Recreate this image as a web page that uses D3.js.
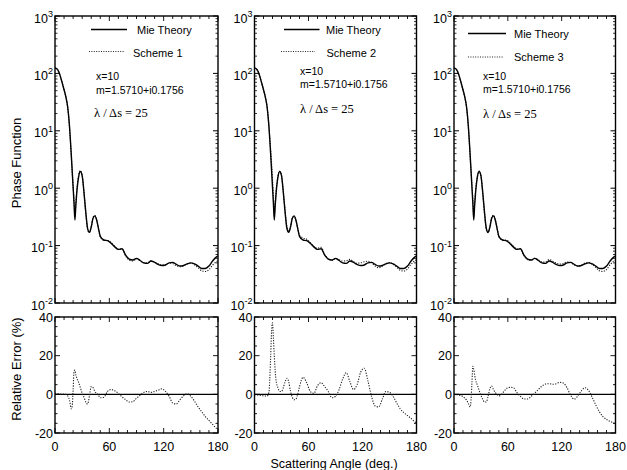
<!DOCTYPE html>
<html>
<head>
<meta charset="utf-8">
<script src="https://cdn.jsdelivr.net/npm/d3@7"></script>
<style>
  body { margin: 0; background: #fff; }
  svg { display: block; }
  text { font-family: "Liberation Sans", Arial, Helvetica, sans-serif; fill: #000; }
</style>
</head>
<body>
<script>
// scattering angles (deg) shared by every series
const angles = [0, 2, 4, 6, 8, 10, 12, 14, 16, 18, 19, 20, 21, 22, 23, 24, 26, 28, 30, 32, 34, 36, 38, 40, 42, 44, 46, 48, 50,
  54, 58, 62, 66, 70, 74, 78, 82, 86, 90, 94, 98, 102, 106, 110, 114, 118, 122, 126, 130, 134, 138, 142, 146, 150,
  154, 158, 162, 166, 170, 174, 178, 180];

// Mie theory phase function
const mie = [124, 120, 108, 88, 68, 52, 39, 26, 12, 3.8, 2.0, 1.05, 0.55, 0.28, 0.5, 0.82, 1.55, 1.95, 1.65, 0.85, 0.38, 0.2, 0.17, 0.21, 0.3, 0.33, 0.28, 0.2, 0.145,
  0.125, 0.122, 0.11, 0.095, 0.086, 0.088, 0.068, 0.058, 0.056, 0.060, 0.055, 0.050, 0.049, 0.054, 0.051, 0.047, 0.045, 0.046, 0.050, 0.051, 0.047, 0.044, 0.045, 0.048, 0.050,
  0.048, 0.044, 0.040, 0.040, 0.044, 0.054, 0.063, 0.066];

// relative error (%) of each scheme against Mie theory
const err1 = [0.5, 0.4, 0.3, 0.2, 0.2, 0.2, 0, -0.8, -3, -7.5, -6, 2, 12, 12.5, 10, 8.5, 6.3, 3.5, 0.5, -1.5, -4, -5, -1, 4, 3.5, 1.5, 0.5, -0.5, -1.8,
  -1.5, 1.5, 2.5, 1.8, 0.5, -1.3, -2.8, -4, -3.8, -2, -0.5, 1, 1.5, 1, 1.5, 2.2, 2.8, 1.5, -1, -4.5, -5, -2.8, -0.8, 0.3, -1,
  -3.5, -6.5, -9, -11.5, -13.5, -15.5, -17.5, -18];
const err2 = [-0.2, -0.3, -0.4, -0.5, -0.7, -0.8, -0.9, -0.9, 1, 20, 33, 37, 29, 20, 12, 7, 3.5, 1.5, 1.5, 3.5, 6.5, 8.3, 6.5, 1.5, -1.5, -2.8, -2.5, 0, 4,
  8.8, 6, 1.5, 0.5, 4.5, 6, 4, 1.5, -1.8, -1, 2.5, 8, 11.2, 6.5, 2.5, 5, 11.5, 13.5, 7, -1, -6, -6.5, -2.5, 1.5, 1,
  -1, -4.5, -7.5, -9.5, -11, -12.5, -14.2, -14.8];
const err3 = [0, -0.1, -0.2, -0.4, -0.7, -1.2, -2, -3, -4.8, -6.5, -3, 6, 14.5, 13, 10, 7.5, 4.8, 2, -0.5, -2.5, -4, -4, -1, 3, 4.3, 2.5, 0.9, 0, -0.9,
  0.5, 2.8, 3.6, 3.5, 1, -1, -2.4, -2.4, -1, 0.6, 2.5, 4.2, 5.3, 5.5, 5.2, 5.5, 6.2, 5.8, 3.4, -0.5, -2.5, -0.8, 1.8, 3.4, 2,
  -1.5, -5.5, -9, -11.5, -13, -14, -14.8, -15.2];

const schemeNames = ['Scheme 1', 'Scheme 2', 'Scheme 3'];
const errors = [err1, err2, err3];
const xTicks = [0, 60, 120, 180];
const logTicks = [1e-2, 1e-1, 1e0, 1e1, 1e2, 1e3];
const errTicks = [-20, 0, 20, 40];

const width = 627, height = 470;
const svg = d3.select('body').append('svg').attr('width', width).attr('height', height);

// layout of the three panels
const panels = [
  { left: 55, right: 218, leg: { sx: [36, 72], sy: 29.5, tx: 82, ty: 33.5, dx: [34, 69], dy: 51.5, t2x: 78, t2y: 56.5, px: 41, py: [80, 93.5], lx: 39, ly: 117 } },
  { left: 254.5, right: 416.5, leg: { sx: [29.5, 65], sy: 29.5, tx: 71.5, ty: 33.5, dx: [26.5, 60.5], dy: 51.5, t2x: 72, t2y: 56.5, px: 45.5, py: [75, 87.5], lx: 45.5, ly: 113 } },
  { left: 454, right: 615.5, leg: { sx: [14, 52], sy: 33.5, tx: 60, ty: 37.5, dx: [14, 49], dy: 57, t2x: 60, t2y: 61, px: 29, py: [80, 93], lx: 29, ly: 118 } }
];
const topY = [16, 303];
const botY = [317, 433];

const yLog = d3.scaleLog().domain([1e-2, 1e3]).range([topY[1], topY[0]]);
const yErr = d3.scaleLinear().domain([-20, 40]).range([botY[1], botY[0]]);

panels.forEach((p, k) => {
  const x = d3.scaleLinear().domain([0, 180]).range([p.left, p.right]);
  const g = svg.append('g');
  const err = errors[k];
  const scheme = mie.map((v, i) => v * (1 + err[i] / 100));

  // ---------- top: phase function ----------
  const lineTop = d3.line().x((d, i) => x(angles[i])).y(d => yLog(d)).curve(d3.curveMonotoneX);
  g.append('path').datum(scheme).attr('d', lineTop)
    .attr('fill', 'none').attr('stroke', '#222').attr('stroke-width', 1.1).attr('stroke-dasharray', '1.2,1.4');
  g.append('path').datum(mie).attr('d', lineTop)
    .attr('fill', 'none').attr('stroke', '#000').attr('stroke-width', 1.4);

  // minor / major log ticks on both sides
  const logMinor = [];
  for (let e = -2; e < 3; e++) for (let m = 2; m < 10; m++) logMinor.push(m * Math.pow(10, e));
  [[p.left, 1], [p.right, -1]].forEach(([ax, dir]) => {
    g.selectAll(null).data(logMinor).enter().append('line')
      .attr('x1', ax).attr('x2', ax + dir * 2.5).attr('y1', d => yLog(d)).attr('y2', d => yLog(d))
      .attr('stroke', '#000').attr('stroke-width', 0.8);
    g.selectAll(null).data(logTicks).enter().append('line')
      .attr('x1', ax).attr('x2', ax + dir * 5).attr('y1', d => yLog(d)).attr('y2', d => yLog(d))
      .attr('stroke', '#000').attr('stroke-width', 1);
  });
  // angle ticks on bottom and top edges of both plots
  const angTicks = d3.range(0, 181, 10);
  [[topY[1], -1], [topY[0], 1], [botY[1], -1], [botY[0], 1]].forEach(([ay, dir]) => {
    g.selectAll(null).data(angTicks).enter().append('line')
      .attr('x1', d => x(d)).attr('x2', d => x(d))
      .attr('y1', ay).attr('y2', d => ay + dir * (d % 60 === 0 ? 5 : 3))
      .attr('stroke', '#000').attr('stroke-width', 0.9);
  });

  g.append('rect').attr('x', p.left).attr('y', topY[0]).attr('width', p.right - p.left).attr('height', topY[1] - topY[0])
    .attr('fill', 'none').attr('stroke', '#000').attr('stroke-width', 1.4);

  // log tick labels
  logTicks.forEach(t => {
    const txt = g.append('text').attr('x', p.left - 2).attr('y', yLog(t) + 6.5)
      .attr('text-anchor', 'end').attr('font-size', 12.5);
    txt.append('tspan').text('10');
    txt.append('tspan').attr('font-size', 9).attr('dy', -5.5).text(String(Math.round(Math.log10(t))));
  });

  // legend
  const L = p.leg;
  g.append('line').attr('x1', p.left + L.sx[0]).attr('x2', p.left + L.sx[1]).attr('y1', L.sy).attr('y2', L.sy)
    .attr('stroke', '#000').attr('stroke-width', 1.4);
  g.append('text').attr('x', p.left + L.tx).attr('y', L.ty).attr('font-size', 11).text('Mie Theory');
  g.append('line').attr('x1', p.left + L.dx[0]).attr('x2', p.left + L.dx[1]).attr('y1', L.dy).attr('y2', L.dy)
    .attr('stroke', '#222').attr('stroke-width', 1).attr('stroke-dasharray', '1,1.4');
  g.append('text').attr('x', p.left + L.t2x).attr('y', L.t2y).attr('font-size', 11).text(schemeNames[k]);
  g.append('text').attr('x', p.left + L.px).attr('y', L.py[0]).attr('font-size', 10.5).text('x=10');
  g.append('text').attr('x', p.left + L.px).attr('y', L.py[1]).attr('font-size', 10.5).text('m=1.5710+i0.1756');
  g.append('text').attr('x', p.left + L.lx).attr('y', L.ly).attr('font-size', 12.5)
    .style('font-family', '"Liberation Serif", "Times New Roman", serif').text('\u03BB / \u0394s = 25');

  // ---------- bottom: relative error ----------
  g.append('line').attr('x1', p.left).attr('x2', p.right).attr('y1', yErr(0)).attr('y2', yErr(0))
    .attr('stroke', '#000').attr('stroke-width', 1.1);
  const lineBot = d3.line().x((d, i) => x(angles[i])).y(d => yErr(d)).curve(d3.curveMonotoneX);
  g.append('path').datum(err).attr('d', lineBot)
    .attr('fill', 'none').attr('stroke', '#222').attr('stroke-width', 1.1).attr('stroke-dasharray', '1.2,1.4');

  const errMinor = d3.range(-20, 41, 5);
  [[p.left, 1], [p.right, -1]].forEach(([ax, dir]) => {
    g.selectAll(null).data(errMinor).enter().append('line')
      .attr('x1', ax).attr('x2', d => ax + dir * (d % 20 === 0 ? 5 : 2.5))
      .attr('y1', d => yErr(d)).attr('y2', d => yErr(d))
      .attr('stroke', '#000').attr('stroke-width', 0.9);
  });
  g.append('rect').attr('x', p.left).attr('y', botY[0]).attr('width', p.right - p.left).attr('height', botY[1] - botY[0])
    .attr('fill', 'none').attr('stroke', '#000').attr('stroke-width', 1.4);

  g.selectAll(null).data(errTicks).enter().append('text')
    .attr('x', p.left - 2).attr('y', d => yErr(d) + 4.5)
    .attr('text-anchor', 'end').attr('font-size', 12.5).text(d => d);

  g.selectAll(null).data(xTicks).enter().append('text')
    .attr('x', d => x(d)).attr('y', 451)
    .attr('text-anchor', 'middle').attr('font-size', 12.5).text(d => d);
});

// axis titles
svg.append('text').attr('transform', 'translate(21,163) rotate(-90)')
  .attr('text-anchor', 'middle').attr('font-size', 13).text('Phase Function');
svg.append('text').attr('transform', 'translate(21,369) rotate(-90)')
  .attr('text-anchor', 'middle').attr('font-size', 13).text('Relative Error (%)');
svg.append('text').attr('x', 334).attr('y', 468)
  .attr('text-anchor', 'middle').attr('font-size', 12.5).text('Scattering Angle (deg.)');
</script>
</body>
</html>
